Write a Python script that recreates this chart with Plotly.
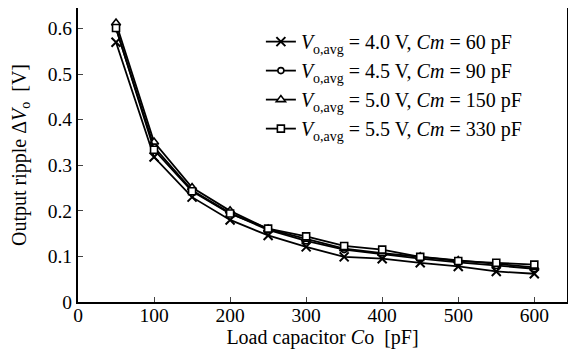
import plotly.graph_objects as go

load_cap = [50, 100, 150, 200, 250, 300, 350, 400, 450, 500, 550, 600]
ripple_40 = [0.570, 0.318, 0.230, 0.180, 0.146, 0.121, 0.099, 0.095, 0.086, 0.078, 0.067, 0.062]
ripple_45 = [0.600, 0.340, 0.245, 0.195, 0.158, 0.134, 0.115, 0.105, 0.095, 0.087, 0.080, 0.073]
ripple_50 = [0.612, 0.351, 0.251, 0.200, 0.160, 0.138, 0.117, 0.107, 0.099, 0.091, 0.083, 0.076]
ripple_55 = [0.601, 0.334, 0.243, 0.194, 0.161, 0.144, 0.123, 0.115, 0.099, 0.090, 0.086, 0.082]

series_names = [
    "<i>V</i><sub>o,avg</sub> = 4.0 V, <i>Cm</i> = 60 pF",
    "<i>V</i><sub>o,avg</sub> = 4.5 V, <i>Cm</i> = 90 pF",
    "<i>V</i><sub>o,avg</sub> = 5.0 V, <i>Cm</i> = 150 pF",
    "<i>V</i><sub>o,avg</sub> = 5.5 V, <i>Cm</i> = 330 pF",
]
series_vals = [ripple_40, ripple_45, ripple_50, ripple_55]
symbols = ["x-thin", "circle", "triangle-up", "square"]
sizes = [9, 6, 8, 7]

x_ticks = [0, 100, 200, 300, 400, 500, 600]
y_ticks = [0, 0.1, 0.2, 0.3, 0.4, 0.5, 0.6]
y_ticktext = ["0", "0.1", "0.2", "0.3", "0.4", "0.5", "0.6"]

FONT = "Liberation Serif"

fig = go.Figure()
for name, vals, sym, sz in zip(series_names, series_vals, symbols, sizes):
    fig.add_trace(go.Scatter(
        x=load_cap, y=vals, name=name, mode="lines+markers",
        line=dict(color="black", width=1.8),
        marker=dict(symbol=sym, size=sz, color="white",
                    line=dict(color="black", width=1.6 if sym != "x-thin" else 2)),
    ))

fig.update_layout(
    width=568, height=348,
    margin=dict(l=70, r=9, t=0, b=54),
    paper_bgcolor="white", plot_bgcolor="white",
    font=dict(family=FONT, size=19, color="black"),
    showlegend=True,
    legend=dict(x=0.374, y=0.952, xanchor="left", yanchor="top",
                bgcolor="rgba(0,0,0,0)", font=dict(family=FONT, size=20),
                tracegroupgap=0),
)
fig.update_xaxes(
    range=[0, 643], tickvals=x_ticks, ticks="inside", ticklen=5, tickwidth=1,
    showline=True, linecolor="black", linewidth=2, mirror=True,
    showgrid=False, zeroline=False, automargin=False,
    tickfont=dict(family=FONT, size=19.5), ticklabelstandoff=-5,
    title=dict(text="Load capacitor <i>C</i>o  [pF]", font=dict(family=FONT, size=20), standoff=0),
)
fig.update_yaxes(
    range=[0, 0.645], tickvals=y_ticks, ticktext=y_ticktext, ticks="inside", ticklen=5, tickwidth=1,
    showline=True, linecolor="black", linewidth=2, mirror=True,
    showgrid=False, zeroline=False, automargin=False,
    tickfont=dict(family=FONT, size=19.5),
    title=dict(text="Output ripple Δ<i>V</i><sub>o</sub>  [V]", font=dict(family=FONT, size=20), standoff=16),
)

fig.write_html("out.html")
